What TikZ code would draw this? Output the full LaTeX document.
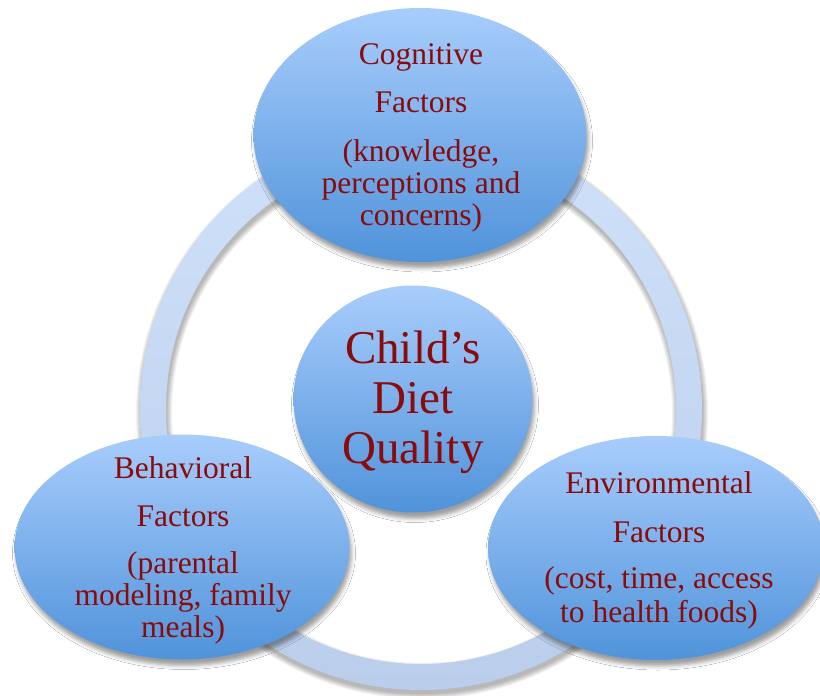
\documentclass[tikz,border=0pt]{standalone}
\usepackage{fontspec}
\setmainfont{Liberation Serif}
\usetikzlibrary{shapes.geometric,shadows.blur}
\definecolor{bubbletop}{RGB}{168,205,252}
\definecolor{bubblebot}{RGB}{80,147,218}
\definecolor{ringtop}{RGB}{207,225,250}
\definecolor{ringbot}{RGB}{186,205,234}
\definecolor{labelred}{RGB}{139,10,10}
\begin{document}
\begin{tikzpicture}[x=1pt,y=-1pt,
  softshadow/.style={blur shadow={shadow xshift=2pt, shadow yshift=-6pt,
      shadow blur radius=4pt, shadow opacity=38}},
  bubble/.style={ellipse, inner sep=0pt, draw=none,
      top color=bubbletop, bottom color=bubblebot, softshadow},
  factortext/.style={text=labelred, align=center, inner sep=0pt, anchor=base,
      font=\fontsize{31.5}{32}\selectfont},
  hubtext/.style={text=labelred, align=center, inner sep=0pt, anchor=base,
      font=\fontsize{47}{50}\selectfont}]
  % canvas
  \fill[white] (0,0) rectangle (820,696);
  \useasboundingbox (0,0) rectangle (820,696);

  % ring joining the three factors, with a soft shadow built from stacked strokes
  \coordinate (hub) at (421,409);
  \coordinate (hubshade) at (422,413);
  \foreach \w in {26,28,30,32,34,36}
    \draw[black, opacity=0.05, line width=\w pt] (hubshade) circle[radius=268pt];
  \shade[top color=ringtop, bottom color=ringbot, even odd rule]
    (hub) circle[radius=281pt] (hub) circle[radius=255pt];

  % bubbles
  \node[bubble, minimum width=333pt, minimum height=254pt] (cog) at (420,135) {};
  \node[bubble, minimum width=335pt, minimum height=225pt] (beh) at (182,547) {};
  \node[bubble, minimum width=336pt, minimum height=224pt] (env) at (656,548) {};
  \node[bubble, minimum width=239pt, minimum height=227pt] (diet) at (413,399) {};

  % labels (anchored at the baseline of their last line)
  \node[factortext] (cogtext) at (421,225)
    {Cognitive\\[16pt] Factors\\[17pt] (knowledge,\\ perceptions and\\ concerns)};
  \node[factortext] (behtext) at (183,637)
    {Behavioral\\[16pt] Factors\\[15pt] (parental\\ modeling, family\\ meals)};
  \node[factortext] (envtext) at (659,622)
    {Environmental\\[17pt] Factors\\[14pt] (cost, time, access\\[2pt] to health foods)};
  \node[hubtext] (diettext) at (413,463) {Child’s\\ Diet\\ Quality};
\end{tikzpicture}
\end{document}
